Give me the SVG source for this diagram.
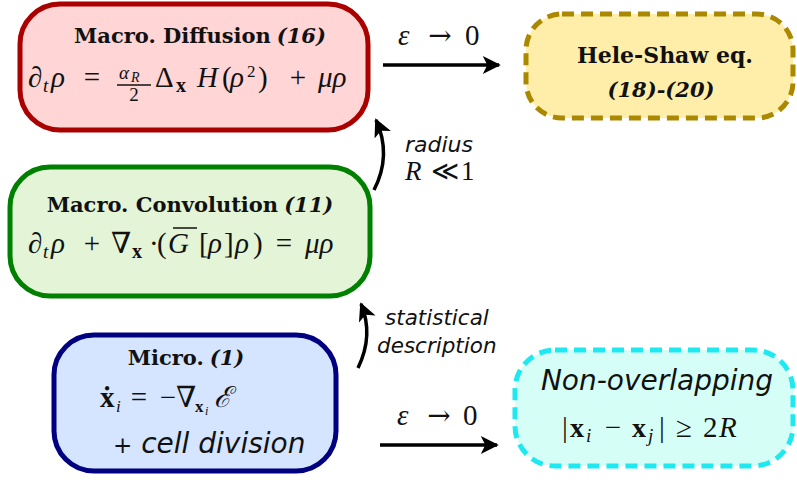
<svg xmlns="http://www.w3.org/2000/svg" width="797" height="482" viewBox="0 0 797 482">
<defs>
<style>
.t{font-family:"DejaVu Serif","Liberation Serif",serif;font-weight:bold;font-size:21px;fill:#111}
.m{font-family:"Liberation Serif","DejaVu Serif",serif;font-size:29px;fill:#111}
.mi{font-family:"Liberation Serif","DejaVu Serif",serif;font-size:29px;font-style:italic;fill:#111}
.sb{font-family:"Liberation Serif","DejaVu Serif",serif;font-size:19px;font-style:italic;fill:#111}
.bx{font-family:"Liberation Serif","DejaVu Serif",serif;font-size:20px;font-weight:bold;fill:#111}
.s{font-family:"DejaVu Sans","Liberation Sans",sans-serif;font-style:italic;fill:#111}
.i{font-style:italic}
.ar{fill:none;stroke:#000;stroke-width:3.5}
</style>
<marker id="ah" viewBox="0 0 20 20" refX="18" refY="10" markerWidth="20" markerHeight="18" markerUnits="userSpaceOnUse" orient="auto">
<path d="M0,0 L20,10 L0,20 L5,10 Z" fill="#000"/>
</marker>
</defs>

<g id="diffusion">
<rect x="20" y="4" width="348" height="126" rx="40" fill="#ffd5d5" stroke="#aa0000" stroke-width="5"/>
<text class="t" x="200" y="43" text-anchor="middle">Macro. Diffusion<tspan class="i" dx="6">(16)</tspan></text>
<text class="m" x="28" y="87">∂</text>
<text class="sb" x="43" y="92">t</text>
<text class="mi" x="51" y="87">ρ</text>
<text class="m" x="92" y="87" text-anchor="middle">=</text>
<text class="sb" x="119" y="79">α</text>
<text class="sb" x="131" y="82" style="font-size:14px">R</text>
<line x1="117" y1="85" x2="151" y2="85" stroke="#111" stroke-width="1.3"/>
<text class="m" x="134" y="101" style="font-size:19px" text-anchor="middle">2</text>
<text class="m" x="155" y="87">Δ</text>
<text class="bx" x="176" y="92">x</text>
<text class="mi" x="197" y="87">H</text>
<text class="m" x="222" y="87">(</text>
<text class="mi" x="230" y="87">ρ</text>
<text class="m" x="247" y="77" style="font-size:17px">2</text>
<text class="m" x="258" y="87">)</text>
<text class="m" x="298" y="87" text-anchor="middle">+</text>
<text class="mi" x="318" y="87">μρ</text>
</g>

<g id="convolution">
<rect x="10" y="167" width="360" height="129" rx="40" fill="#e3f4d7" stroke="#008000" stroke-width="5"/>
<text class="t" x="190" y="212" text-anchor="middle">Macro. Convolution<tspan class="i" dx="6">(11)</tspan></text>
<text class="m" x="28" y="253">∂</text>
<text class="sb" x="43" y="258">t</text>
<text class="mi" x="51" y="253">ρ</text>
<text class="m" x="92" y="253" text-anchor="middle">+</text>
<text class="m" x="111" y="253">∇</text>
<text class="bx" x="132" y="258">x</text>
<text class="m" x="149" y="253">·</text>
<text class="m" x="157" y="253">(</text>
<text class="mi" x="168" y="253">G</text>
<line x1="173" y1="228" x2="197" y2="228" stroke="#111" stroke-width="1.5"/>
<text class="m" x="199" y="253">[</text>
<text class="mi" x="208" y="253">ρ</text>
<text class="m" x="224" y="253">]</text>
<text class="mi" x="235" y="253">ρ</text>
<text class="m" x="253" y="253">)</text>
<text class="m" x="284" y="253" text-anchor="middle">=</text>
<text class="mi" x="305" y="253">μρ</text>
</g>

<g id="micro">
<rect x="54" y="335" width="282" height="136" rx="40" fill="#d5e5ff" stroke="#000080" stroke-width="5"/>
<text class="t" x="186" y="365" text-anchor="middle">Micro.<tspan class="i" dx="6">(1)</tspan></text>
<text class="m" x="100" y="407" font-weight="bold">ẋ</text>
<text class="sb" x="116" y="412" style="font-size:17px">i</text>
<text class="m" x="139" y="407" text-anchor="middle">=</text>
<text class="m" x="168" y="407" text-anchor="middle">−</text>
<text class="m" x="176" y="407">∇</text>
<text class="bx" x="195" y="412" style="font-size:17px">x</text>
<text class="sb" x="205" y="415" style="font-size:12px">i</text>
<text class="mi" x="214" y="407">ℰ</text>
<text class="s" x="113" y="453" font-size="28"><tspan font-style="normal" font-size="23">+</tspan> cell division</text>
</g>

<g id="heleshaw">
<rect x="526" y="14" width="267" height="104" rx="36" fill="#ffeeaa" stroke="#aa8800" stroke-width="5" stroke-dasharray="12,7"/>
<text class="t" x="665" y="63" text-anchor="middle" style="font-size:22px">Hele-Shaw eq.</text>
<text class="t" x="661" y="97" text-anchor="middle" font-style="italic">(18)-(20)</text>
</g>

<g id="nonoverlap">
<rect x="515" y="350" width="278" height="116" rx="40" fill="#d5fff6" stroke="#1ee8f0" stroke-width="5" stroke-dasharray="12,7"/>
<text class="s" x="657" y="390" font-size="28" text-anchor="middle">Non-overlapping</text>
<text class="m" x="562" y="437">|</text>
<text class="bx" x="570" y="437" style="font-size:28px">x</text>
<text class="sb" x="586" y="442">i</text>
<text class="m" x="613" y="437" text-anchor="middle">−</text>
<text class="bx" x="632" y="437" style="font-size:28px">x</text>
<text class="sb" x="648" y="442">j</text>
<text class="m" x="659" y="437">|</text>
<text class="m" x="684" y="437" text-anchor="middle">≥</text>
<text class="m" x="703" y="437">2</text>
<text class="mi" x="719" y="437">R</text>
</g>

<g id="connectors">
<line class="ar" x1="383" y1="65" x2="499" y2="65" marker-end="url(#ah)"/>
<text class="mi" x="398" y="45">ε</text>
<text class="m" x="440" y="45" text-anchor="middle" style="font-family:'DejaVu Serif',serif;font-size:28px">→</text>
<text class="m" x="465" y="45">0</text>
<line class="ar" x1="380" y1="445" x2="497" y2="445" marker-end="url(#ah)"/>
<text class="mi" x="397" y="425">ε</text>
<text class="m" x="439" y="425" text-anchor="middle" style="font-family:'DejaVu Serif',serif;font-size:28px">→</text>
<text class="m" x="463" y="425">0</text>
<path class="ar" d="M374,190 Q392,155 376,120" marker-end="url(#ah)"/>
<text class="s" x="405" y="152" font-size="22">radius</text>
<text class="mi" x="405" y="180" style="font-size:27px">R</text>
<text class="m" x="431" y="180" style="font-size:27px">≪</text>
<text class="m" x="461" y="180" style="font-size:27px">1</text>
<path class="ar" d="M358,368 Q374,335 361,304" marker-end="url(#ah)"/>
<text class="s" x="385" y="325" font-size="21.5">statistical</text>
<text class="s" x="377" y="353" font-size="21.5">description</text>
</g>
</svg>
